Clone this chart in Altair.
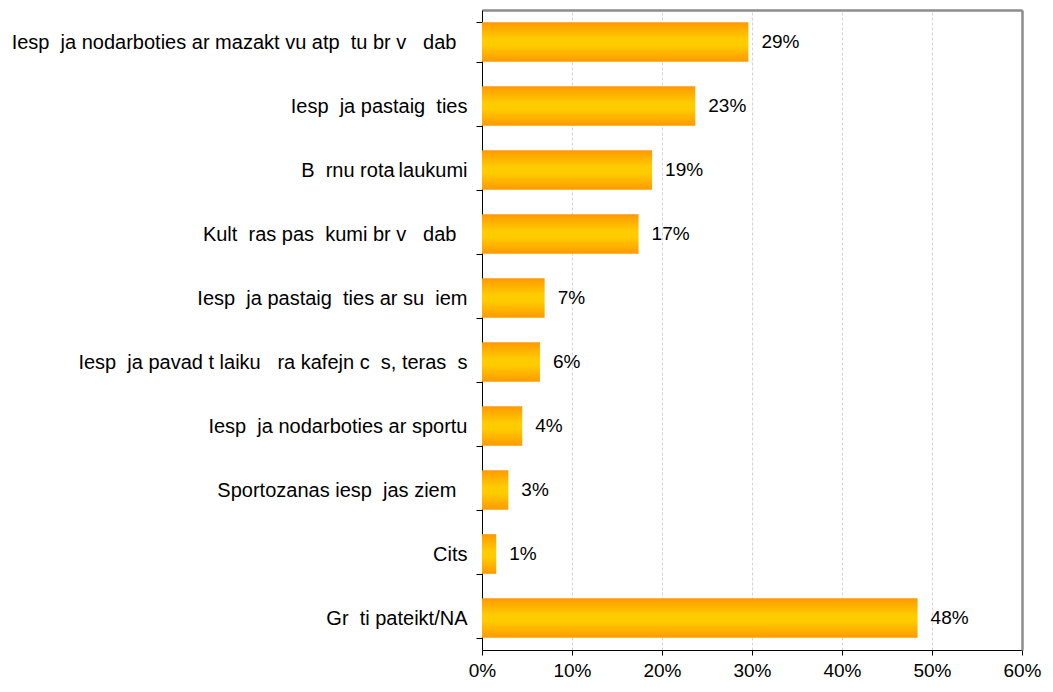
import altair as alt
import pandas as pd

END = "\u2007\u2060"  # keeps the trailing blank of a missing final glyph

categories = [
    "Iesp\u2007ja nodarboties ar mazakt\u2008vu atp\u2007tu br\u2008v\u2007 dab" + END,
    "Iesp\u2007ja pastaig\u2007ties",
    "B\u2007rnu rota\u2009laukumi",
    "Kult\u2007ras pas\u2007kumi br\u2008v\u2007 dab" + END,
    "Iesp\u2007ja pastaig\u2007ties ar su\u2007iem",
    "Iesp\u2007ja pavad\u2008t laiku \u2007ra kafejn\u2008c\u2007s, teras\u2007s",
    "Iesp\u2007ja nodarboties ar sportu",
    "Sportozanas iesp\u2007jas ziem" + END,
    "Cits",
    "Gr\u2007ti pateikt/NA",
]
values = [0.296, 0.237, 0.189, 0.174, 0.0696, 0.0644, 0.0447, 0.0293, 0.0158, 0.484]
value_labels = ["29%", "23%", "19%", "17%", "7%", "6%", "4%", "3%", "1%", "48%"]
x_ticks = [0, 0.1, 0.2, 0.3, 0.4, 0.5, 0.6]

df = pd.DataFrame({"cat": categories, "val": values, "lbl": value_labels})

FONT = "Liberation Sans"
FS = 20
FS_NUM = 19
FRAME = "#8c8c8c"

gradient = alt.Gradient(
    gradient="linear",
    stops=[
        alt.GradientStop(color="#FF9900", offset=0),
        alt.GradientStop(color="#FFCC00", offset=0.42),
        alt.GradientStop(color="#FFCC00", offset=0.58),
        alt.GradientStop(color="#FF9900", offset=1),
    ],
    x1=0, x2=0, y1=0, y2=1,
)

y_scale = alt.Scale(paddingInner=0.38, paddingOuter=0.19)
x_scale = alt.Scale(domain=[0, 0.6], nice=False)

y_enc = alt.Y(
    "cat:N",
    sort=None,
    title=None,
    scale=y_scale,
    axis=alt.Axis(
        orient="left",
        labelFontSize=FS,
        labelFont=FONT,
        labelColor="black",
        labelLimit=700,
        labelPadding=9,
        tickSize=6,
        tickColor="black",
        tickBand="extent",
        domainColor="black",
        domainWidth=1,
        grid=False,
    ),
)

x_enc = alt.X(
    "val:Q",
    title=None,
    scale=x_scale,
    axis=alt.Axis(
        orient="bottom",
        values=x_ticks,
        format=".0%",
        labelFontSize=FS_NUM,
        labelFont=FONT,
        labelColor="black",
        labelPadding=6,
        tickSize=5,
        tickColor="black",
        domainColor="black",
        domainWidth=1,
        grid=True,
        gridColor="#d4d4d4",
        gridDash=[3, 2],
        gridWidth=1,
        labelFlush=False,
    ),
)

bars = alt.Chart(df).mark_bar(fill=gradient).encode(x=x_enc, y=y_enc)

texts = alt.Chart(df).mark_text(
    align="left", baseline="middle", dx=13, fontSize=FS_NUM, font=FONT, color="black"
).encode(
    x=alt.X("val:Q", axis=None),
    y=alt.Y("cat:N", sort=None, axis=None),
    text="lbl:N",
)

frame = alt.Chart(df).mark_bar(opacity=0).encode(
    x=alt.X(
        "val:Q",
        title=None,
        axis=alt.Axis(orient="top", labels=False, ticks=False, grid=False,
                      domainColor=FRAME, domainWidth=2.5),
    ),
    y=alt.Y(
        "cat:N",
        sort=None,
        title=None,
        axis=alt.Axis(orient="right", labels=False, ticks=False, grid=False,
                      domainColor=FRAME, domainWidth=2.5),
    ),
)

chart = (
    alt.layer(bars, texts, frame)
    .resolve_axis(x="independent", y="independent")
    .properties(
        width=540,
        height=640,
        autosize=alt.AutoSizeParams(type="none"),
        padding={"left": 474, "top": 2, "right": 23, "bottom": 30},
    )
    .configure_view(stroke="transparent")
    .configure(font=FONT)
)

chart.save("out.html", embed_options={"renderer": "svg", "actions": False})
